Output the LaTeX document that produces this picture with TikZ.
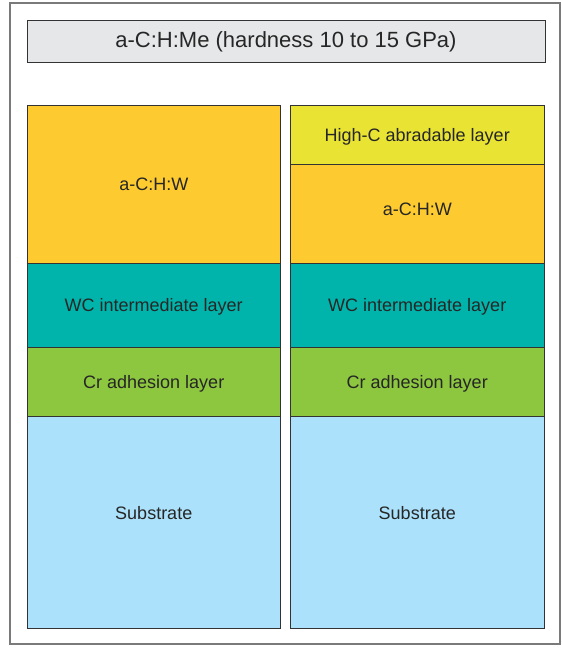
\documentclass[tikz,border=0pt]{standalone}
\usepackage{fontspec}
\setmainfont{Liberation Sans}
\usetikzlibrary{positioning}
\definecolor{Ink}{HTML}{262626}
\definecolor{Edge}{HTML}{333333}
\definecolor{Frame}{HTML}{7A7A7A}
\definecolor{TitleFill}{HTML}{E6E7E8}
\definecolor{Amber}{HTML}{FDCA2F}
\definecolor{Lemon}{HTML}{E9E434}
\definecolor{Teal}{HTML}{00B4AB}
\definecolor{Leaf}{HTML}{8DC63F}
\definecolor{Sky}{HTML}{ABE1FA}
\tikzset{
  outer/.style={draw=Frame,line width=1.2pt,inner sep=0pt,outer sep=0pt},
  header/.style={draw=Edge,fill=TitleFill,line width=.9pt,inner sep=0pt,outer sep=0pt,font=\fontsize{22}{24}\selectfont,text=Ink,text height=17pt,text depth=5pt},
  layer/.style={draw=Edge,line width=.9pt,minimum width=253.5pt,inner sep=0pt,outer sep=0pt,font=\fontsize{18}{20}\selectfont,text=Ink,text height=16pt,text depth=3pt},
  dlc/.style={layer,fill=Amber},
  topcoat/.style={layer,fill=Lemon},
  wc/.style={layer,fill=Teal},
  cr/.style={layer,fill=Leaf},
  base/.style={layer,fill=Sky,text depth=21pt}
}
\begin{document}
\begin{tikzpicture}[x=1pt,y=-1pt,node distance=0pt]
  \useasboundingbox (0,0) rectangle (562,648);
  \node[outer,minimum width=550pt,minimum height=641pt,anchor=north west] (frame) at (10,3) {};
  \node[header,minimum width=518pt,minimum height=42pt,anchor=north west] (title) at (27,20) {a-C:H:Me (hardness 10 to 15 GPa)};

  % left stack
  \node[dlc,minimum height=158pt,anchor=north west] (lw) at (27,105) {a-C:H:W};
  \node[wc,minimum height=84pt,below=of lw] (lwc) {WC intermediate layer};
  \node[cr,minimum height=69pt,below=of lwc] (lcr) {Cr adhesion layer};
  \node[base,minimum height=212pt,below=of lcr] (lsub) {Substrate};

  % right stack
  \node[topcoat,minimum height=59pt,anchor=north west] (rc) at (290.5,105) {High-C abradable layer};
  \node[dlc,minimum height=99pt,text depth=12pt,below=of rc] (rw) {a-C:H:W};
  \node[wc,minimum height=84pt,below=of rw] (rwc) {WC intermediate layer};
  \node[cr,minimum height=69pt,below=of rwc] (rcr) {Cr adhesion layer};
  \node[base,minimum height=212pt,below=of rcr] (rsub) {Substrate};
\end{tikzpicture}
\end{document}
